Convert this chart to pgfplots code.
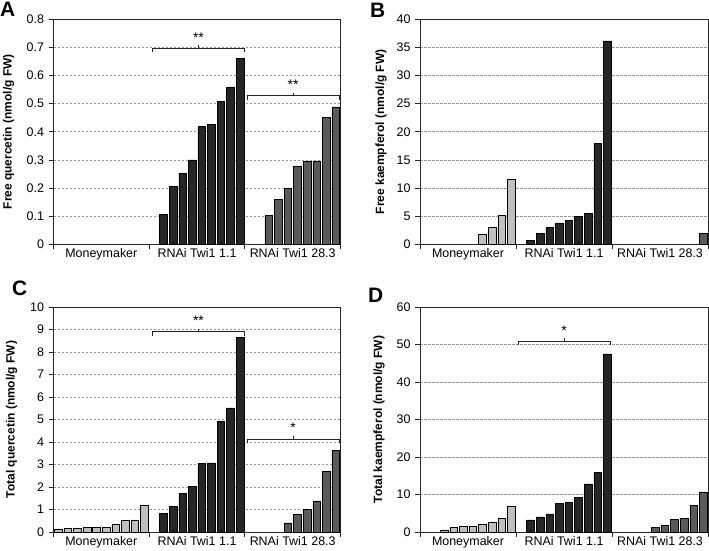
\documentclass[border=0pt]{standalone}
\usepackage{fontspec}
\setmainfont{Liberation Sans}
\usepackage{pgfplots}
\pgfplotsset{compat=1.18}
\definecolor{lightbar}{HTML}{BFBFBF}
\definecolor{darkbar}{HTML}{262626}
\definecolor{midbar}{HTML}{5A5A5A}
\tikzset{stars/.style={font=\fontsize{14}{15}\selectfont},
  brk/.style={draw=black!85, line width=0.7bp}}
\pgfplotsset{
  panel/.style={
    scale only axis, width=287bp, height=225bp,
    xmin=0, xmax=30, ymin=0,
    axis line style={draw=black!85, line width=0.9bp},
    xtick={0,10,20,30}, xticklabels={},
    extra x ticks={5,15,25},
    extra x tick labels={Moneymaker, RNAi Twi1 1.1, RNAi Twi1 28.3},
    extra x tick style={major tick length=0pt, grid=none},
    tick align=outside, xtick pos=left, ytick pos=left,
    major tick length=5bp,
    tick style={draw=black!85, line width=0.8bp},
    ymajorgrids, grid style={dash pattern=on 2.5bp off 1.5bp, gray!80, line width=0.6bp},
    tick label style={font=\fontsize{12.5}{14}\selectfont},
    yticklabel style={xshift=-1bp},
    xticklabel style={yshift=-1bp},
    /pgf/number format/assume math mode=true,
    clip=false,
  },
  ylab/.style={every axis y label/.style={at={(axis description cs:#1,0.5)}, rotate=90, anchor=center,
    font=\bfseries\fontsize{12}{14}\selectfont}},
  mbar/.style={ybar, bar width=0.8, bar shift=0pt, draw=black, line width=0.5bp, fill=#1},
}
\begin{document}
\begin{tikzpicture}
\useasboundingbox (0bp,0bp) rectangle (709bp,551bp);
% ---------- A ----------
\begin{axis}[panel, at={(53.5bp,306.7bp)}, anchor=south west,
  ymax=0.8, ytick={0,0.1,0.2,0.3,0.4,0.5,0.6,0.7,0.8},
  yticklabels={0,0.1,0.2,0.3,0.4,0.5,0.6,0.7,0.8},
  ylabel={Free quercetin (nmol/g FW)}, ylab=-0.157]
\addplot[mbar=darkbar] coordinates {(11.5,0.107) (12.5,0.207) (13.5,0.253) (14.5,0.300) (15.5,0.418) (16.5,0.427) (17.5,0.507) (18.5,0.560) (19.5,0.661)};
\addplot[mbar=midbar] coordinates {(22.5,0.103) (23.5,0.160) (24.5,0.200) (25.5,0.278) (26.5,0.296) (27.5,0.296) (28.5,0.452) (29.5,0.489)};
\draw[brk] ([yshift=-4bp]axis cs:10.35,0.697) -- (axis cs:10.35,0.697) -- (axis cs:19.95,0.697) -- ([yshift=-4bp]axis cs:19.95,0.697);
\draw[brk] (axis cs:15.15,0.697) -- ([yshift=3bp]axis cs:15.15,0.697);
\node[stars] at (axis cs:15.15,0.735) {**};
\draw[brk] ([yshift=-4bp]axis cs:20.25,0.529) -- (axis cs:20.25,0.529) -- (axis cs:29.85,0.529) -- ([yshift=-4bp]axis cs:29.85,0.529);
\draw[brk] (axis cs:25.05,0.529) -- ([yshift=3bp]axis cs:25.05,0.529);
\node[stars] at (axis cs:25.05,0.567) {**};
\end{axis}
% ---------- B ----------
\begin{axis}[panel, at={(420bp,306.7bp)}, anchor=south west, width=288bp,
  ymax=40, ytick={0,5,10,15,20,25,30,35,40},
  ylabel={Free kaempferol (nmol/g FW)}, ylab=-0.135]
\addplot[mbar=lightbar] coordinates {(6.5,1.7) (7.5,3.05) (8.5,5.25) (9.5,11.65)};
\addplot[mbar=darkbar] coordinates {(11.5,0.75) (12.5,2.0) (13.5,3.0) (14.5,3.8) (15.5,4.3) (16.5,4.9) (17.5,5.55) (18.5,18.0) (19.5,36.15)};
\addplot[mbar=midbar] coordinates {(29.5,1.95)};
\end{axis}
% ---------- C ----------
\begin{axis}[panel, at={(53.5bp,19bp)}, anchor=south west,
  ymax=10, ytick={0,1,2,3,4,5,6,7,8,9,10},
  ylabel={Total quercetin (nmol/g FW)}, ylab=-0.146]
\addplot[mbar=lightbar] coordinates {(0.5,0.14) (1.5,0.16) (2.5,0.18) (3.5,0.20) (4.5,0.21) (5.5,0.21) (6.5,0.34) (7.5,0.51) (8.5,0.54) (9.5,1.17)};
\addplot[mbar=darkbar] coordinates {(11.5,0.84) (12.5,1.14) (13.5,1.70) (14.5,2.04) (15.5,3.06) (16.5,3.07) (17.5,4.90) (18.5,5.52) (19.5,8.64)};
\addplot[mbar=midbar] coordinates {(24.5,0.41) (25.5,0.78) (26.5,1.00) (27.5,1.38) (28.5,2.69) (29.5,3.62)};
\draw[brk] ([yshift=-4bp]axis cs:10.35,8.9) -- (axis cs:10.35,8.9) -- (axis cs:19.95,8.9) -- ([yshift=-4bp]axis cs:19.95,8.9);
\draw[brk] (axis cs:15.15,8.9) -- ([yshift=3bp]axis cs:15.15,8.9);
\node[stars] at (axis cs:15.15,9.4) {**};
\draw[brk] ([yshift=-4bp]axis cs:20.25,4.13) -- (axis cs:20.25,4.13) -- (axis cs:29.85,4.13) -- ([yshift=-4bp]axis cs:29.85,4.13);
\draw[brk] (axis cs:25.05,4.13) -- ([yshift=3bp]axis cs:25.05,4.13);
\node[stars] at (axis cs:25.05,4.63) {*};
\end{axis}
% ---------- D ----------
\begin{axis}[panel, at={(420bp,19bp)}, anchor=south west, width=288bp,
  ymax=60, ytick={0,10,20,30,40,50,60},
  ylabel={Total kaempferol (nmol/g FW)}, ylab=-0.142]
\addplot[mbar=lightbar] coordinates {(2.5,0.53) (3.5,1.15) (4.5,1.5) (5.5,1.5) (6.5,1.94) (7.5,2.65) (8.5,3.6) (9.5,6.9)};
\addplot[mbar=darkbar] coordinates {(11.5,3.2) (12.5,4.06) (13.5,4.86) (14.5,7.7) (15.5,7.86) (16.5,9.3) (17.5,12.8) (18.5,15.9) (19.5,47.5)};
\addplot[mbar=midbar] coordinates {(24.5,1.15) (25.5,1.77) (26.5,3.45) (27.5,3.7) (28.5,7.07) (29.5,10.7)};
\draw[brk] ([yshift=-4bp]axis cs:10.25,50.8) -- (axis cs:10.25,50.8) -- (axis cs:19.8,50.8) -- ([yshift=-4bp]axis cs:19.8,50.8);
\draw[brk] (axis cs:15.0,50.8) -- ([yshift=3bp]axis cs:15.0,50.8);
\node[stars] at (axis cs:15.0,53.7) {*};
\end{axis}
% panel letters
\node[anchor=north west, inner sep=0pt, font=\bfseries\fontsize{21}{22}\selectfont] at (0bp,549bp) {A};
\node[anchor=north west, inner sep=0pt, font=\bfseries\fontsize{21}{22}\selectfont] at (370bp,548bp) {B};
\node[anchor=north west, inner sep=0pt, font=\bfseries\fontsize{21}{22}\selectfont] at (12bp,270bp) {C};
\node[anchor=north west, inner sep=0pt, font=\bfseries\fontsize{21}{22}\selectfont] at (368bp,263bp) {D};
\end{tikzpicture}
\end{document}
